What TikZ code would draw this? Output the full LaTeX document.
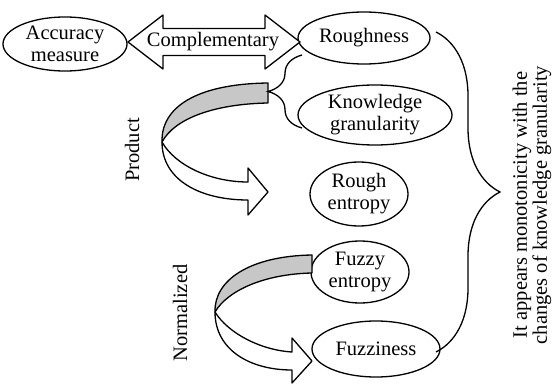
\documentclass[tikz,border=0pt]{standalone}
\usepackage{fontspec}
\setmainfont{Liberation Serif}
\usepackage{tikz}
\usetikzlibrary{calc,decorations.pathreplacing,shapes.geometric}
\tikzset{
	oval/.style={draw, ellipse, line width=1.3pt, inner sep=0pt, align=center},
	ribbon/.style={draw, line width=1.3pt, line join=round},
	curly/.style={draw, line width=1.3pt, decorate, decoration={brace, amplitude=#1}},
	every node/.append style={font=\fontsize{20.5}{22}\selectfont}
}

\begin{document}
\begin{tikzpicture}[x=1pt, y=-1pt]
			%%%%% START %%%%%
			
			\fill[white] (0, 0) rectangle (553, 390);
			\useasboundingbox (0, 0) rectangle (553, 390);
			
			\node[oval, minimum width=124pt, minimum height=54pt] (acc) at (65, 44) {Accuracy\\measure};
			\node[oval, minimum width=132pt, minimum height=52pt] (rough) at (364, 38) {Roughness};
			\node[oval, minimum width=154pt, minimum height=60pt] (know) at (375, 115) {Knowledge\\granularity};
			\node[oval, minimum width=98pt, minimum height=64pt] (roughent) at (359, 194) {Rough\\entropy};
			\node[oval, minimum width=98pt, minimum height=62pt] (fuzzyent) at (360, 272) {Fuzzy\\entropy};
			\node[oval, minimum width=128pt, minimum height=56pt] (fuzzi) at (376, 349) {Fuzziness};
			
			% complementary double arrow
			\coordinate (cl) at (128, 42);
			\coordinate (cr) at (300, 42);
			\draw[ribbon, fill=white] (cl) -- ++(35, -27) -- ++(0, 13.5) -- ($(cr)+(-35, -13.5)$) -- ++(0, -13.5)
				-- (cr) -- ++(-35, 27) -- ++(0, -13.5) -- ($(cl)+(35, 13.5)$) -- ++(0, 13.5) -- cycle;
			\node (compl) at (213, 42) {Complementary};
			
			% product ribbon
			\draw[ribbon, fill=black!22] (268, 83) .. controls (195, 84) and (161, 108) .. (162, 142)
				.. controls (175, 118) and (215, 104) .. (268, 103) -- cycle;
			\draw[ribbon, fill=white] (162, 142) .. controls (175, 165) and (210, 182) .. (248, 182)
				-- (248, 168) -- (268, 192) -- (248, 215) -- (248, 200)
				.. controls (200, 200) and (162, 180) .. (162, 142) -- cycle;
			\node[rotate=90] (prod) at (132, 150) {Product};
			
			% normalized ribbon
			\draw[ribbon, fill=black!22] (312, 255) .. controls (250, 256) and (214, 280) .. (215, 312)
				.. controls (228, 290) and (265, 274) .. (312, 273) -- cycle;
			\draw[ribbon, fill=white] (215, 312) .. controls (228, 333) and (260, 350) .. (292, 352)
				-- (292, 338) -- (312, 361) -- (292, 383) -- (292, 370)
				.. controls (250, 370) and (215, 350) .. (215, 312) -- cycle;
			\node[rotate=90] (norm) at (180, 313) {Normalized};
			
			% braces
			\coordinate (sb) at (302, 128);
			\coordinate (st) at (302, 55);
			\draw[curly=34pt] (sb) -- (st);
			
			\coordinate (bt) at (436, 32);
			\coordinate (bb) at (436, 352);
			\draw[curly=64pt] (bt) -- (bb);
			
			\node[rotate=90, align=center, font=\fontsize{20.5}{20}\selectfont] (mono) at (532, 205) {It appears monotonicity with the\\changes of knowledge granularity};
			
			%%%%% END %%%%%
		\end{tikzpicture}
\end{document}
